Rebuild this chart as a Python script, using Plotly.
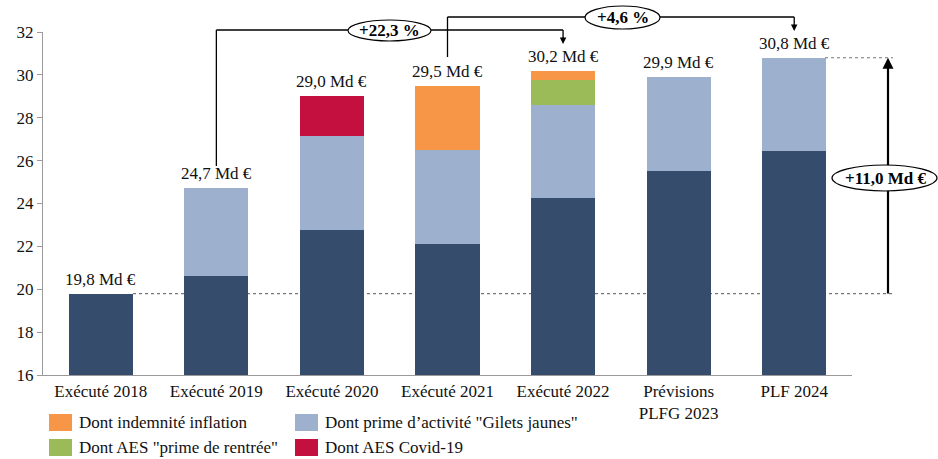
import plotly.graph_objects as go

# Categories and stacked components (Md €)
categories = ["Exécuté 2018", "Exécuté 2019", "Exécuté 2020", "Exécuté 2021",
              "Exécuté 2022", "Prévisions<br>PLFG 2023", "PLF 2024"]
base_values = [19.8, 20.6, 22.75, 22.1, 24.25, 25.5, 26.45]
gilets_jaunes = [0, 4.1, 4.4, 4.4, 4.35, 4.4, 4.35]
aes_rentree = [0, 0, 0, 0, 1.15, 0, 0]
aes_covid = [0, 0, 1.85, 0, 0, 0, 0]
indemnite_inflation = [0, 0, 0, 3.0, 0.45, 0, 0]
y_ticks = [16, 18, 20, 22, 24, 26, 28, 30, 32]

totals = [round(a + b + c + d + e, 2) for a, b, c, d, e in
          zip(base_values, gilets_jaunes, aes_rentree, aes_covid, indemnite_inflation)]
total_labels = [f"{t:.1f}".replace(".", ",") + " Md €" for t in totals]

DARK = "#364C6D"
LIGHT = "#9DB1CF"
ORANGE = "#F79646"
GREEN = "#9BBB59"
RED = "#C3103F"
FONT = "Liberation Serif"
FS = 17

W, H = 938, 459
L, R, T, B = 43, 852, 32, 375  # plot area in pixels


def px_x(p):
    return (p - L) / (R - L)


def px_y(p):
    return (B - p) / (B - T)


fig = go.Figure()
series = [
    (base_values, DARK),
    (gilets_jaunes, LIGHT),
    (aes_rentree, GREEN),
    (aes_covid, RED),
    (indemnite_inflation, ORANGE),
]
for vals, col in series:
    fig.add_trace(go.Bar(
        x=categories, y=vals, marker=dict(color=col, line=dict(width=0)),
        width=0.555, showlegend=False, hoverinfo="skip",
    ))

shapes = []
annotations = []

# Totals above each bar
for cat, tot, lab in zip(categories, totals, total_labels):
    annotations.append(dict(x=cat, y=tot, xref="x", yref="y", text=lab,
                            showarrow=False, xanchor="center", yanchor="bottom", yshift=3,
                            font=dict(family=FONT, size=FS, color="#111")))

line_k = dict(color="black", width=1.3)


def bracket(i0, i1, py_start, py_top, py_end, ell, label):
    shapes.append(dict(type="line", xref="x", yref="paper", x0=i0, x1=i0,
                       y0=px_y(py_start), y1=px_y(py_top), line=line_k))
    shapes.append(dict(type="line", xref="x", yref="paper", x0=i0, x1=i1,
                       y0=px_y(py_top), y1=px_y(py_top), line=line_k))
    shapes.append(dict(type="line", xref="x", yref="paper", x0=i1, x1=i1,
                       y0=px_y(py_top), y1=px_y(py_end - 6), line=line_k))
    annotations.append(dict(x=i1, y=px_y(py_end), xref="x", yref="paper",
                            text="", showarrow=True, ax=0, ay=-8,
                            arrowhead=2, arrowsize=1, arrowwidth=1.3,
                            arrowcolor="black", standoff=0))
    ex0, ex1, ey0, ey1 = ell
    shapes.append(dict(type="circle", xref="paper", yref="paper",
                       x0=px_x(ex0), x1=px_x(ex1), y0=px_y(ey1), y1=px_y(ey0),
                       fillcolor="white", line=dict(color="black", width=1.2)))
    annotations.append(dict(x=px_x((ex0 + ex1) / 2), y=px_y((ey0 + ey1) / 2),
                            xref="paper", yref="paper", text=f"<b>{label}</b>",
                            showarrow=False, xanchor="center", yanchor="middle",
                            font=dict(family=FONT, size=FS, color="black")))


bracket(1, 4, 166, 30, 44, (348, 431, 20, 41), "+22,3 %")
bracket(3, 6, 57, 17, 31, (585, 660, 6, 29), "+4,6 %")

# Overall increase between 2018 and 2024
xr = px_x(888)
shapes.append(dict(type="line", xref="paper", yref="y", x0=px_x(133), x1=px_x(893),
                   y0=totals[0], y1=totals[0], layer="below",
                   line=dict(color="#777", width=1.2, dash="dot")))
shapes.append(dict(type="line", xref="paper", yref="y", x0=px_x(825), x1=px_x(893),
                   y0=totals[-1], y1=totals[-1],
                   line=dict(color="#777", width=1.2, dash="dot")))
shapes.append(dict(type="line", xref="paper", yref="y", x0=xr, x1=xr,
                   y0=totals[0], y1=totals[-1] - 0.4, line=dict(color="black", width=2.2)))
annotations.append(dict(x=xr, y=totals[-1], xref="paper", yref="y", text="",
                        showarrow=True, ax=0, ay=12, arrowhead=2, arrowsize=1,
                        arrowwidth=2.2, arrowcolor="black", standoff=0))
shapes.append(dict(type="circle", xref="paper", yref="paper",
                   x0=px_x(832), x1=px_x(937), y0=px_y(191), y1=px_y(165),
                   fillcolor="white", line=dict(color="black", width=1.2)))
annotations.append(dict(x=px_x(885), y=px_y(178), xref="paper", yref="paper",
                        text=f"<b>+{totals[-1] - totals[0]:.1f}".replace(".", ",") + " Md €</b>",
                        showarrow=False, xanchor="center", yanchor="middle",
                        font=dict(family=FONT, size=FS, color="black")))

# Legend drawn below the axis
legend_items = [
    ("Dont indemnité inflation", ORANGE, 49, 414),
    ('Dont prime d’activité "Gilets jaunes"', LIGHT, 295, 414),
    ('Dont AES "prime de rentrée"', GREEN, 49, 439),
    ("Dont AES Covid-19", RED, 295, 439),
]
for text, col, lx, ly in legend_items:
    shapes.append(dict(type="rect", xref="paper", yref="paper",
                       x0=px_x(lx), x1=px_x(lx + 23), y0=px_y(ly + 17), y1=px_y(ly),
                       fillcolor=col, line=dict(width=0)))
    annotations.append(dict(x=px_x(lx + 28), y=px_y(ly + 8.5), xref="paper", yref="paper",
                            text=text, showarrow=False, xanchor="left", yanchor="middle",
                            font=dict(family=FONT, size=FS, color="#111")))

fig.update_layout(
    width=W, height=H,
    margin=dict(l=L, r=W - R, t=T, b=H - B),
    barmode="stack", bargap=0.445,
    plot_bgcolor="white", paper_bgcolor="white",
    shapes=shapes, annotations=annotations,
    font=dict(family=FONT, size=FS, color="#111"),
    xaxis=dict(showline=True, linecolor="#9a9a9a", linewidth=1.2, ticks="",
               tickfont=dict(family=FONT, size=FS, color="#111"), fixedrange=True),
    yaxis=dict(range=[16, 32], tickvals=y_ticks, showline=True, linecolor="#9a9a9a",
               linewidth=1.2, ticks="outside", ticklen=5, tickcolor="#9a9a9a",
               showgrid=False, zeroline=False,
               tickfont=dict(family=FONT, size=FS, color="#111")),
)

fig.write_html("out.html")
